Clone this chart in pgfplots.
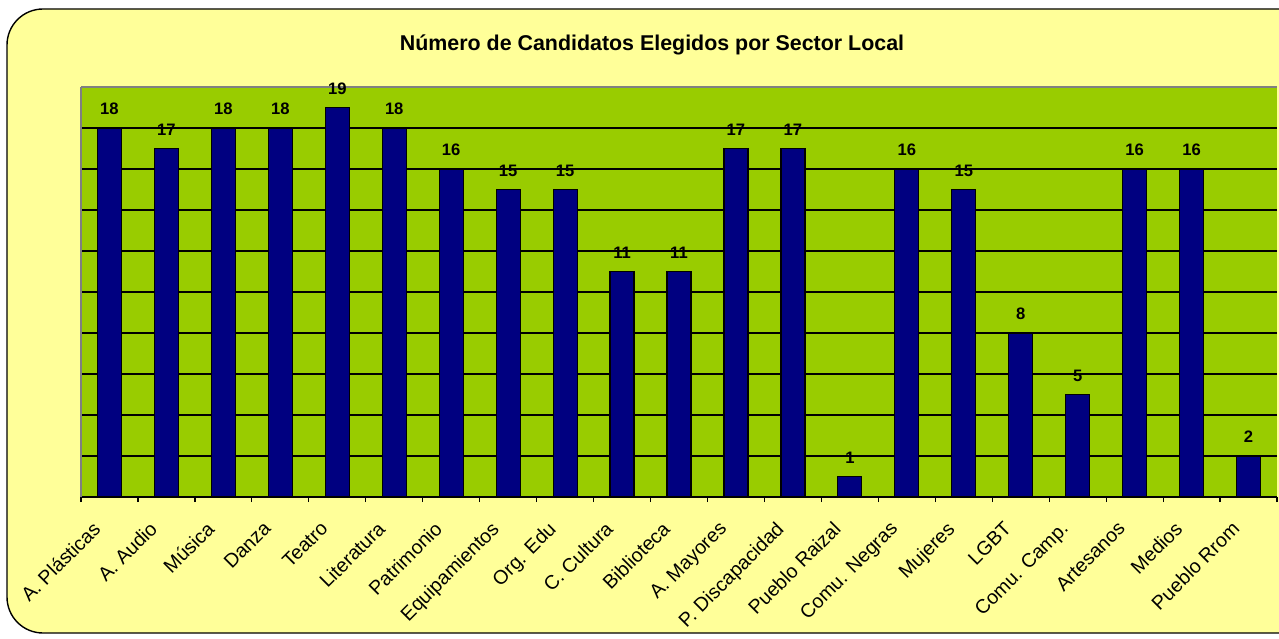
\documentclass[border=0pt]{standalone}
\usepackage{pgfplots}
\pgfplotsset{compat=1.18}
\usepackage{fontspec}
\setmainfont{Liberation Sans}
\definecolor{bgy}{HTML}{FFFF99}
\definecolor{plotg}{HTML}{99CC00}
\definecolor{barb}{HTML}{000080}
\begin{document}
\begin{tikzpicture}[x=0.5pt,y=0.5pt]
\clip (0,0) rectangle (1279,638);
\fill[white] (0,0) rectangle (1279,638);
\draw[black, fill=bgy, rounded corners=18pt, line width=0.7pt] (7,629) rectangle (1330,5);
\node[font=\bfseries\fontsize{10.7}{12}\selectfont] at (652,593) {Número de Candidatos Elegidos por Sector Local};
\begin{axis}[
  at={(40.5pt,70.5pt)}, anchor=south west,
  scale only axis, width=598pt, height=205pt,
  xmin=-0.5, xmax=20.5, ymin=0, ymax=20,
  axis background/.style={fill=plotg},
  ybar, bar width=12pt,
  axis x line*=bottom, axis y line*=left,
  x axis line style={black, line width=0.7pt},
  y axis line style={gray, line width=0.7pt},
  xtick={0,...,20},
  xticklabels={A. Plásticas, A. Audio, Música, Danza, Teatro, Literatura, Patrimonio, Equipamientos, Org. Edu, C. Cultura, Biblioteca, A. Mayores, P. Discapacidad, Pueblo Raizal, Comu. Negras, Mujeres, LGBT, Comu. Camp., Artesanos, Medios, Pueblo Rrom},
  major x tick style={draw=none},
  minor xtick={-0.5,0.5,...,20.5},
  minor x tick style={black, line width=0.6pt},
  minor tick length=2.5pt,
  tick align=outside,
  xticklabel style={font=\fontsize{9.8}{11}\selectfont, xshift=-9pt, yshift=-5.7pt, rotate=45, anchor=north east, inner sep=1pt},
  ytick={0,2,...,18},
  yticklabels={},
  major y tick style={draw=none},
  ymajorgrids,
  grid style={black, line width=0.55pt},
  /pgf/number format/assume math mode=true,
  nodes near coords,
  nodes near coords style={font=\bfseries\fontsize{8.3}{9}\selectfont, black, yshift=3pt},
  clip=false,
]
\addplot[fill=barb, draw=black, line width=0.6pt] coordinates {
(0,18) (1,17) (2,18) (3,18) (4,19) (5,18) (6,16) (7,15) (8,15) (9,11) (10,11)
(11,17) (12,17) (13,1) (14,16) (15,15) (16,8) (17,5) (18,16) (19,16) (20,2)};
\draw[gray, line width=0.7pt] (rel axis cs:0,1) -- (rel axis cs:1,1);
\end{axis}
\end{tikzpicture}
\end{document}
